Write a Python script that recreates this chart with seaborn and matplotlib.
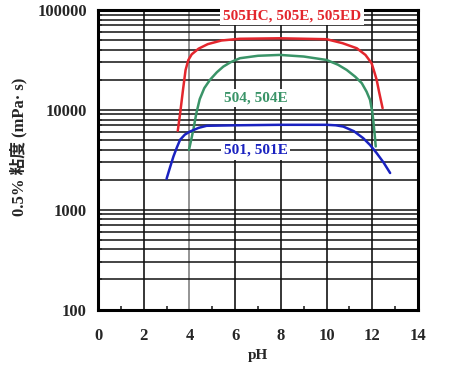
import pandas as pd
import seaborn as sns
import matplotlib.pyplot as plt
from matplotlib.ticker import LogLocator, FixedLocator, NullFormatter

# 505HC, 505E, 505ED
ph_505 = [3.49, 3.6, 3.72, 3.83, 3.95, 4.1, 4.4, 4.8, 5.4, 6.2, 7.96, 10.0, 10.7,
          11.32, 11.7, 11.97, 12.1, 12.19, 12.3, 12.45]
visc_505 = [6170, 9500, 16000, 25000, 31500, 36000, 41000, 45500, 49500, 51500, 52100,
            51000, 46500, 41400, 35500, 29300, 23500, 20000, 15000, 10400]

# 504, 504E
ph_504 = [3.98, 4.1, 4.17, 4.3, 4.45, 4.65, 4.9, 5.2, 5.48, 5.8, 6.21, 7.0, 7.96, 9.0,
          10.0, 10.5, 10.88, 11.25, 11.54, 11.75, 11.9, 12.0, 12.04, 12.1, 12.15]
visc_504 = [3980, 5300, 6310, 9200, 12800, 16500, 20000, 23800, 27100, 30000, 32900,
            34800, 35500, 34200, 31600, 28300, 25100, 21500, 18500, 15200, 12600, 9500,
            7940, 5800, 4300]

# 501, 501E
ph_501 = [3.0, 3.15, 3.3, 3.45, 3.59, 3.8, 4.03, 4.4, 4.75, 6.0, 7.96, 10.0, 10.4,
          10.73, 11.2, 11.6, 11.9, 12.19, 12.5, 12.78]
visc_501 = [2040, 2650, 3410, 4200, 5010, 5650, 6070, 6600, 6920, 7000, 7080, 7080, 7000,
            6800, 6100, 5210, 4450, 3690, 2950, 2330]

series_names = ["505HC, 505E, 505ED", "504, 504E", "501, 501E"]
series_colors = ["#e3262d", "#3a9468", "#1a22c0"]
x_ticks = [0, 2, 4, 6, 8, 10, 12, 14]
y_ticks = [100, 1000, 10000, 100000]

frames = []
for name, xs, ys in zip(series_names, [ph_505, ph_504, ph_501], [visc_505, visc_504, visc_501]):
    frames.append(pd.DataFrame({"pH": xs, "visc": ys, "grade": name}))
df = pd.concat(frames, ignore_index=True)

sns.set_style("white")
plt.rcParams["font.family"] = ["Liberation Serif", "Noto Sans CJK JP", "DejaVu Sans"]
plt.rcParams["font.weight"] = "bold"

fig = plt.figure(figsize=(4.58, 3.88), dpi=100)
ax = fig.add_axes([0.214, 0.2023, 0.6987, 0.7719])

# grid first so the curves sit on top
ax.set_yscale("log")
ax.set_xlim(0, 14)
ax.set_ylim(100, 100000)
ax.xaxis.set_major_locator(FixedLocator(x_ticks))
ax.xaxis.set_minor_locator(FixedLocator([1, 3, 5, 7, 9, 11, 13]))
ax.yaxis.set_major_locator(FixedLocator(y_ticks))
ax.yaxis.set_minor_locator(LogLocator(base=10, subs=range(2, 10)))
ax.yaxis.set_minor_formatter(NullFormatter())
ax.set_yticklabels([str(v) for v in y_ticks])
ax.grid(True, which="major", axis="x", color="black", lw=1.1)
ax.grid(True, which="both", axis="y", color="#111111", lw=1.1)
ax.get_xgridlines()[2].set_color("#777777")
ax.set_axisbelow(True)

sns.lineplot(data=df, x="pH", y="visc", hue="grade", palette=series_colors,
             hue_order=series_names, sort=False, estimator=None, lw=1.8,
             legend=False, ax=ax)

for sp in ax.spines.values():
    sp.set_linewidth(2.2)
    sp.set_color("black")

ax.tick_params(which="major", direction="in", length=4, width=1.2, labelsize=12)
ax.tick_params(axis="y", which="major", pad=8)
ax.tick_params(axis="x", which="major", pad=13)
ax.tick_params(which="minor", axis="x", direction="in", length=3, width=1.2, bottom=True)
ax.tick_params(which="minor", axis="y", direction="in", length=3, width=1.2, left=True)
for lab in ax.get_xticklabels() + ax.get_yticklabels():
    lab.set_fontweight("bold")

ax.set_xlabel("pH", fontsize=11, fontweight="bold", labelpad=4)
ax.set_ylabel("0.5% 粘度 (mPa· s)", fontsize=12, fontweight="bold")
ax.yaxis.set_label_coords(-0.22, 0.542)

label_pos = [(8.5, 88000), (6.9, 13200), (6.9, 3920)]
for name, color, (tx, ty) in zip(series_names, series_colors, label_pos):
    ax.text(tx, ty, name, color=color, fontsize=11, fontweight="bold",
            ha="center", va="center",
            bbox=dict(facecolor="white", edgecolor="none", pad=2))

fig.savefig("out.png", dpi=100)
